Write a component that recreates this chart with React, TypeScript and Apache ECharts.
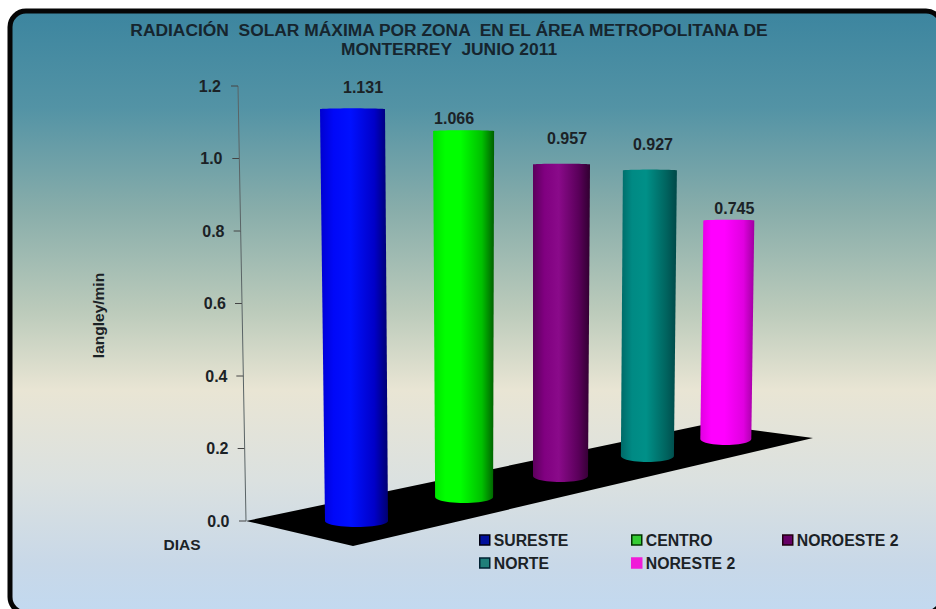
import React, { useEffect, useRef } from "react";
import * as echarts from "echarts";

const titleText = "RADIACIÓN  SOLAR MÁXIMA POR ZONA  EN EL ÁREA METROPOLITANA DE\nMONTERREY  JUNIO 2011";
const categories = ["SURESTE", "CENTRO", "NOROESTE 2", "NORTE", "NORESTE 2"];
const values = [1.131, 1.066, 0.957, 0.927, 0.745];
const valueLabels = ["1.131", "1.066", "0.957", "0.927", "0.745"];
const tickValues = [0, 0.2, 0.4, 0.6, 0.8, 1.0, 1.2];
const yAxisName = "langley/min";
const xAxisName = "DIAS";

// perspective layout (style only, data stays in the arrays above)
const depthScale = [1.0046, 0.947, 0.898, 0.85, 0.809];
const baseLift = [0, 24, 45, 65, 82];
const baseDx = [53.8, 48, 31, 4.5, -30.5];
const topDx = [49.8, 47.5, 32, 7, -27.5];
const baseHalf = [31.5, 29, 27.5, 26.5, 25.5];
const topHalf = [32.5, 30.5, 28.5, 27, 25.5];
const labelDx = [10.5, -9.5, 5.5, 3, 5.5];
const labelDy = [-22, -13, -25.5, -25.5, -12.5];
const tickPad = [0, 1, 2, 3.5, 5, 7, 8.5];
const shades = [
  ["#0000d0", "#0008f8", "#0010ff", "#0000c8", "#000070"],
  ["#00e000", "#00ff00", "#00ff00", "#00c000", "#006000"],
  ["#5c005c", "#800080", "#8a0a8a", "#5a005a", "#300030"],
  ["#006a68", "#008a84", "#009088", "#006560", "#004848"],
  ["#e000e0", "#ff00ff", "#ff00ff", "#e000e0", "#a000a0"],
];
const legendColors = ["#000f9c", "#33cc33", "#660066", "#1f7f7a", "#f01cd8"];
const legendBorders = ["#001", "#030", "#201", "#023", "#f01cd8"];
const legendPos = [
  [479, 532],
  [631, 532],
  [782, 532],
  [479, 555],
  [631, 555],
];

const FONT = "Liberation Sans";
const INK = "#1b2226";

function cylinderItem(idx: number) {
  return (_params: any, api: any) => {
    const val = api.value(1);
    const zero = api.coord([idx, 0]);
    const top = api.coord([idx, val]);
    const h = (zero[1] - top[1]) * depthScale[idx];
    const yBase = zero[1] - baseLift[idx];
    const yTop = yBase - h;
    const cxB = zero[0] + baseDx[idx];
    const cxT = zero[0] + topDx[idx];
    const pts: number[][] = [];
    const ry = 6;
    for (let i = 0; i <= 24; i++) {
      const t = (Math.PI * i) / 24;
      pts.push([cxT - topHalf[idx] * Math.cos(t), yTop - 0.8 * Math.sin(t)]);
    }
    for (let i = 0; i <= 24; i++) {
      const t = (Math.PI * i) / 24;
      pts.push([cxB + baseHalf[idx] * Math.cos(t), yBase + ry * Math.sin(t)]);
    }
    const s = shades[idx];
    return {
      type: "group",
      children: [
        {
          type: "polygon",
          shape: { points: pts },
          style: {
            fill: new echarts.graphic.LinearGradient(0, 0, 1, 0, [
              { offset: 0, color: s[0] },
              { offset: 0.2, color: s[1] },
              { offset: 0.45, color: s[2] },
              { offset: 0.8, color: s[3] },
              { offset: 1, color: s[4] },
            ]),
          },
        },
        {
          type: "text",
          x: cxT + labelDx[idx],
          y: yTop + labelDy[idx],
          style: {
            text: valueLabels[idx],
            fill: INK,
            font: `bold 16px "${FONT}"`,
            textAlign: "center",
            textVerticalAlign: "middle",
          },
        },
      ],
    };
  };
}

function axisItem(params: any, api: any) {
  const v = api.value(0);
  const p = api.coord([0, v]);
  const band = api.size([1, 0])[0];
  const xOf = (u: number) => p[0] - band / 2 - (8 * u) / 1.2;
  const x = xOf(v);
  const children: any[] = [
    {
      type: "line",
      shape: { x1: x - 7, y1: p[1], x2: x, y2: p[1] },
      style: { stroke: "#444", lineWidth: 1 },
    },
  ];
  const i = params.dataIndex;
  if (i < tickValues.length - 1) {
    const next = api.coord([0, tickValues[i + 1]]);
    children.push({
      type: "line",
      shape: { x1: x, y1: p[1], x2: xOf(tickValues[i + 1]), y2: next[1] },
      style: { stroke: "#5a6466", lineWidth: 1 },
    });
  }
  return { type: "group", children };
}

export default function App() {
  const ref = useRef<HTMLDivElement>(null);
  useEffect(() => {
    document.body.style.margin = "0";
    const chart = echarts.init(ref.current!, null, { renderer: "svg" });
    const rich: any = {};
    tickPad.forEach((pad, i) => {
      rich["t" + i] = {
        padding: [0, pad, 0, 0],
        fontFamily: FONT,
        fontWeight: "bold",
        fontSize: 16,
        color: INK,
      };
    });
    chart.setOption({
      animation: false,
      backgroundColor: "#ffffff",
      title: {
        text: titleText,
        left: 449,
        top: 20,
        padding: 0,
        textAlign: "center",
        textStyle: {
          fontFamily: FONT,
          fontWeight: "bold",
          fontSize: 17.4,
          lineHeight: 19,
          color: "#16252e",
        },
      },
      grid: { left: 246, top: 86, width: 567, height: 435, containLabel: false },
      xAxis: {
        type: "category",
        data: categories,
        axisLine: { show: false },
        axisTick: { show: false },
        axisLabel: { show: false },
        splitLine: { show: false },
      },
      yAxis: {
        type: "value",
        min: 0,
        max: 1.2,
        interval: 0.2,
        name: yAxisName,
        nameLocation: "middle",
        nameRotate: 90,
        nameGap: 140,
        nameTextStyle: {
          fontFamily: FONT,
          fontWeight: "bold",
          fontSize: 15.5,
          color: INK,
          padding: [0, 24, 0, 0],
        },
        axisLine: { show: false },
        axisTick: { show: false },
        splitLine: { show: false },
        axisLabel: {
          margin: 16.5,
          formatter: (v: number) => {
            const i = Math.round(v / 0.2);
            return `{t${i}|${v.toFixed(1)}}`;
          },
          rich,
        },
      },
      legend: categories.map((name, i) => ({
        data: [name],
        left: legendPos[i][0],
        top: legendPos[i][1],
        padding: 0,
        itemWidth: 10,
        itemHeight: 10,
        icon: "rect",
        selectedMode: false,
        itemStyle: { borderColor: legendBorders[i], borderWidth: 1.5, color: legendColors[i] },
        textStyle: {
          fontFamily: FONT,
          fontWeight: "bold",
          fontSize: 15.8,
          color: INK,
          padding: [0, 0, 0, -1],
        },
      })),
      graphic: [
        {
          type: "rect",
          z: -10,
          shape: { x: 10, y: 11, width: 932, height: 602, r: 16 },
          style: {
            stroke: "#050505",
            lineWidth: 5,
            fill: new echarts.graphic.LinearGradient(0, 0, 0, 1, [
              { offset: 0, color: "#3c859f" },
              { offset: 0.16, color: "#5393a5" },
              { offset: 0.33, color: "#88adaa" },
              { offset: 0.5, color: "#bccbbb" },
              { offset: 0.63, color: "#e9e5d4" },
              { offset: 0.78, color: "#dbe1e0" },
              { offset: 0.92, color: "#c8d8e8" },
              { offset: 1, color: "#c2d9f0" },
            ]),
          },
        },
        {
          type: "polygon",
          z: -5,
          shape: {
            points: [
              [246, 521],
              [707, 424],
              [813, 438],
              [353, 546],
            ],
          },
          style: { fill: "#000000" },
        },
        {
          type: "text",
          x: 182,
          y: 544,
          style: {
            text: xAxisName,
            fill: INK,
            font: `bold 15.5px "${FONT}"`,
            textAlign: "center",
            textVerticalAlign: "middle",
          },
        },
      ],
      series: [
        {
          type: "custom",
          name: "eje",
          coordinateSystem: "cartesian2d",
          renderItem: axisItem,
          data: tickValues.map((v) => [v]),
          encode: { y: 0 },
          silent: true,
          z: 1,
        },
        ...categories.map((name, i) => ({
          type: "custom",
          name,
          coordinateSystem: "cartesian2d",
          renderItem: cylinderItem(i),
          data: [[i, values[i]]],
          encode: { x: 0, y: 1 },
          color: legendColors[i],
          itemStyle: { color: legendColors[i] },
          silent: true,
          clip: false,
          z: 10 - i,
        })),
      ],
    });
    return () => chart.dispose();
  }, []);
  return <div ref={ref} style={{ width: 936, height: 609 }} />;
}
